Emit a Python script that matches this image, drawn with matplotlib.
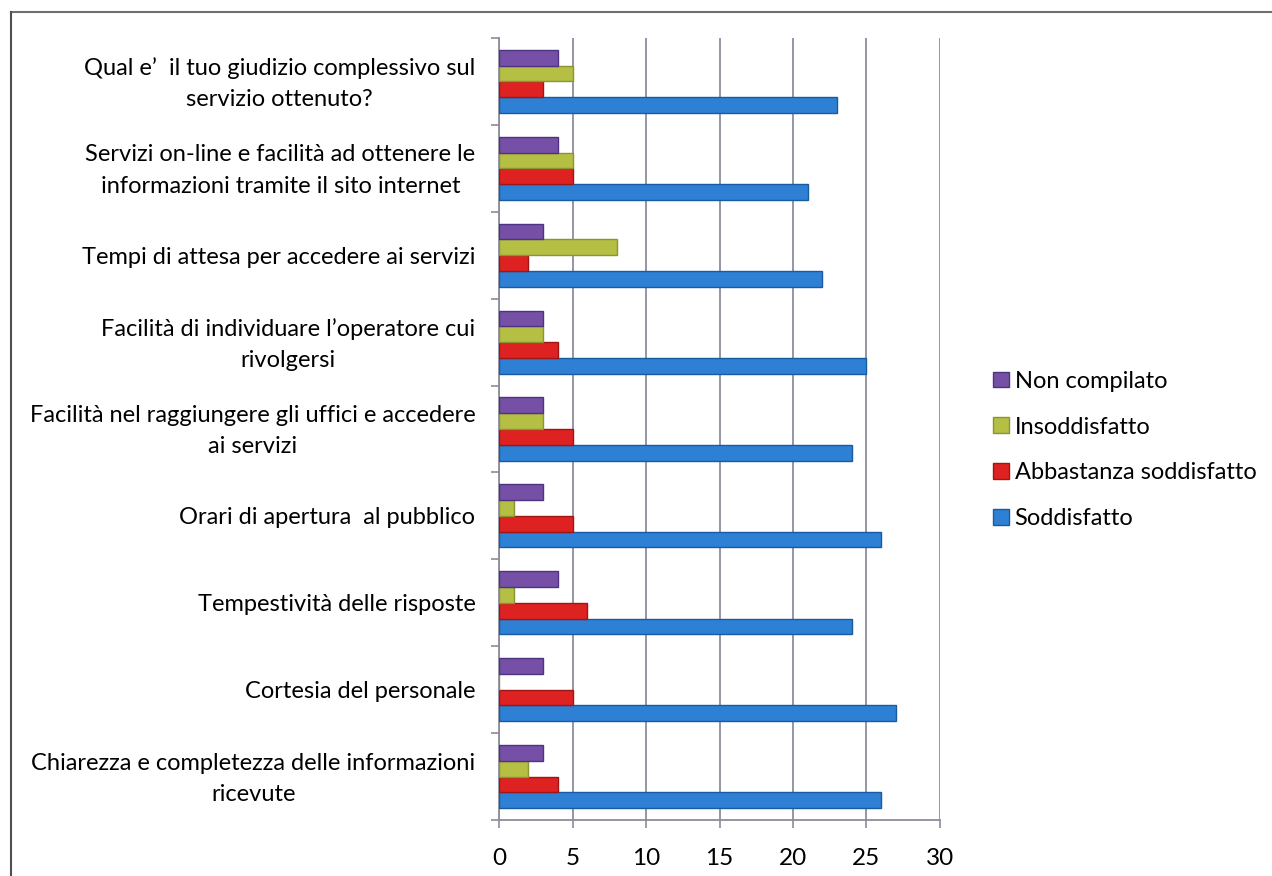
import matplotlib
matplotlib.use("Agg")
import matplotlib.pyplot as plt
import matplotlib.transforms as mtransforms
import numpy as np
from matplotlib.lines import Line2D

plt.rcParams['font.family'] = ['Lato', 'DejaVu Sans']

categories = [
    "Chiarezza e completezza delle informazioni\nricevute",
    "Cortesia del personale",
    "Tempestività delle risposte",
    "Orari di apertura  al pubblico",
    "Facilità nel raggiungere gli uffici e accedere\nai servizi",
    "Facilità di individuare l\u2019operatore cui\nrivolgersi",
    "Tempi di attesa per accedere ai servizi",
    "Servizi on-line e facilità ad ottenere le\ninformazioni tramite il sito internet",
    "Qual e\u2019  il tuo giudizio complessivo sul\nservizio ottenuto?",
]
series_names = ["Soddisfatto", "Abbastanza soddisfatto", "Insoddisfatto", "Non compilato"]
soddisfatto = [26, 27, 24, 26, 24, 25, 22, 21, 23]
abbastanza = [4, 5, 6, 5, 5, 4, 2, 5, 3]
insoddisfatto = [2, 0, 1, 1, 3, 3, 8, 5, 5]
non_compilato = [3, 3, 4, 3, 3, 3, 3, 4, 4]
x_ticks = [0, 5, 10, 15, 20, 25, 30]

colors = ["#2D80D4", "#DE2222", "#B4BF44", "#7550A6"]
edges = ["#1A5AA0", "#A01515", "#8A9430", "#4E3380"]

W, H = 1272, 876
fig = plt.figure(figsize=(W / 100, H / 100), dpi=100)
ax = fig.add_axes([499 / W, 1 - 820 / H, (940 - 499) / W, (820 - 38) / H])

values = [soddisfatto, abbastanza, insoddisfatto, non_compilato]
n = len(categories)
y = np.arange(n)
h = 1 / 5.5
offsets = [-1.5 * h, -0.5 * h, 0.5 * h, 1.5 * h]
handles = []
for vals, off, c, e, name in zip(values, offsets, colors, edges, series_names):
    b = ax.barh(y + off, vals, height=h, color=c, edgecolor=e, linewidth=1.0, label=name, zorder=3)
    handles.append(b)

ax.set_xlim(0, 30)
ax.set_ylim(-0.5, n - 0.5)
ax.set_xticks(x_ticks)
ax.set_xticklabels([str(t) for t in x_ticks], fontsize=17.5)
ax.xaxis.grid(True, color="#8C8C9C", linewidth=1.3, zorder=0)
ax.set_axisbelow(True)

ax.set_yticks(y)
ax.set_yticklabels(categories, fontsize=17, multialignment="center", linespacing=1.6)
ax.tick_params(axis="y", length=0, pad=17)
shift = mtransforms.ScaledTranslation(0, 5 / 100, fig.dpi_scale_trans)
for lab in ax.get_yticklabels():
    if "\n" in lab.get_text():
        lab.set_transform(lab.get_transform() + shift)
ax.set_yticks(np.arange(-0.5, n, 1), minor=True)
ax.tick_params(axis="y", which="minor", length=6, color="#8C8C9C", width=1.2, direction="out")
ax.tick_params(axis="x", length=6, color="#8C8C9C", width=1.2, direction="out", pad=14)

for s in ["top", "right"]:
    ax.spines[s].set_visible(False)
for s in ["left", "bottom"]:
    ax.spines[s].set_color("#8C8C9C")
    ax.spines[s].set_linewidth(1.3)

leg_handles = handles[::-1]
leg_labels = series_names[::-1]
leg = fig.legend(leg_handles, leg_labels, loc="center left",
                 bbox_to_anchor=(972 / W, 1 - 450 / H), frameon=False,
                 fontsize=17, handlelength=0.65, handleheight=0.65,
                 handletextpad=0.25, labelspacing=1.05)

# outer border (top and left)
fig.add_artist(Line2D([11 / W, 1.0], [1 - 12 / H, 1 - 12 / H], color="#707070", linewidth=1.5))
fig.add_artist(Line2D([11 / W, 11 / W], [0.0, 1 - 12 / H], color="#505050", linewidth=1.5))

fig.savefig("out.png", dpi=100)
